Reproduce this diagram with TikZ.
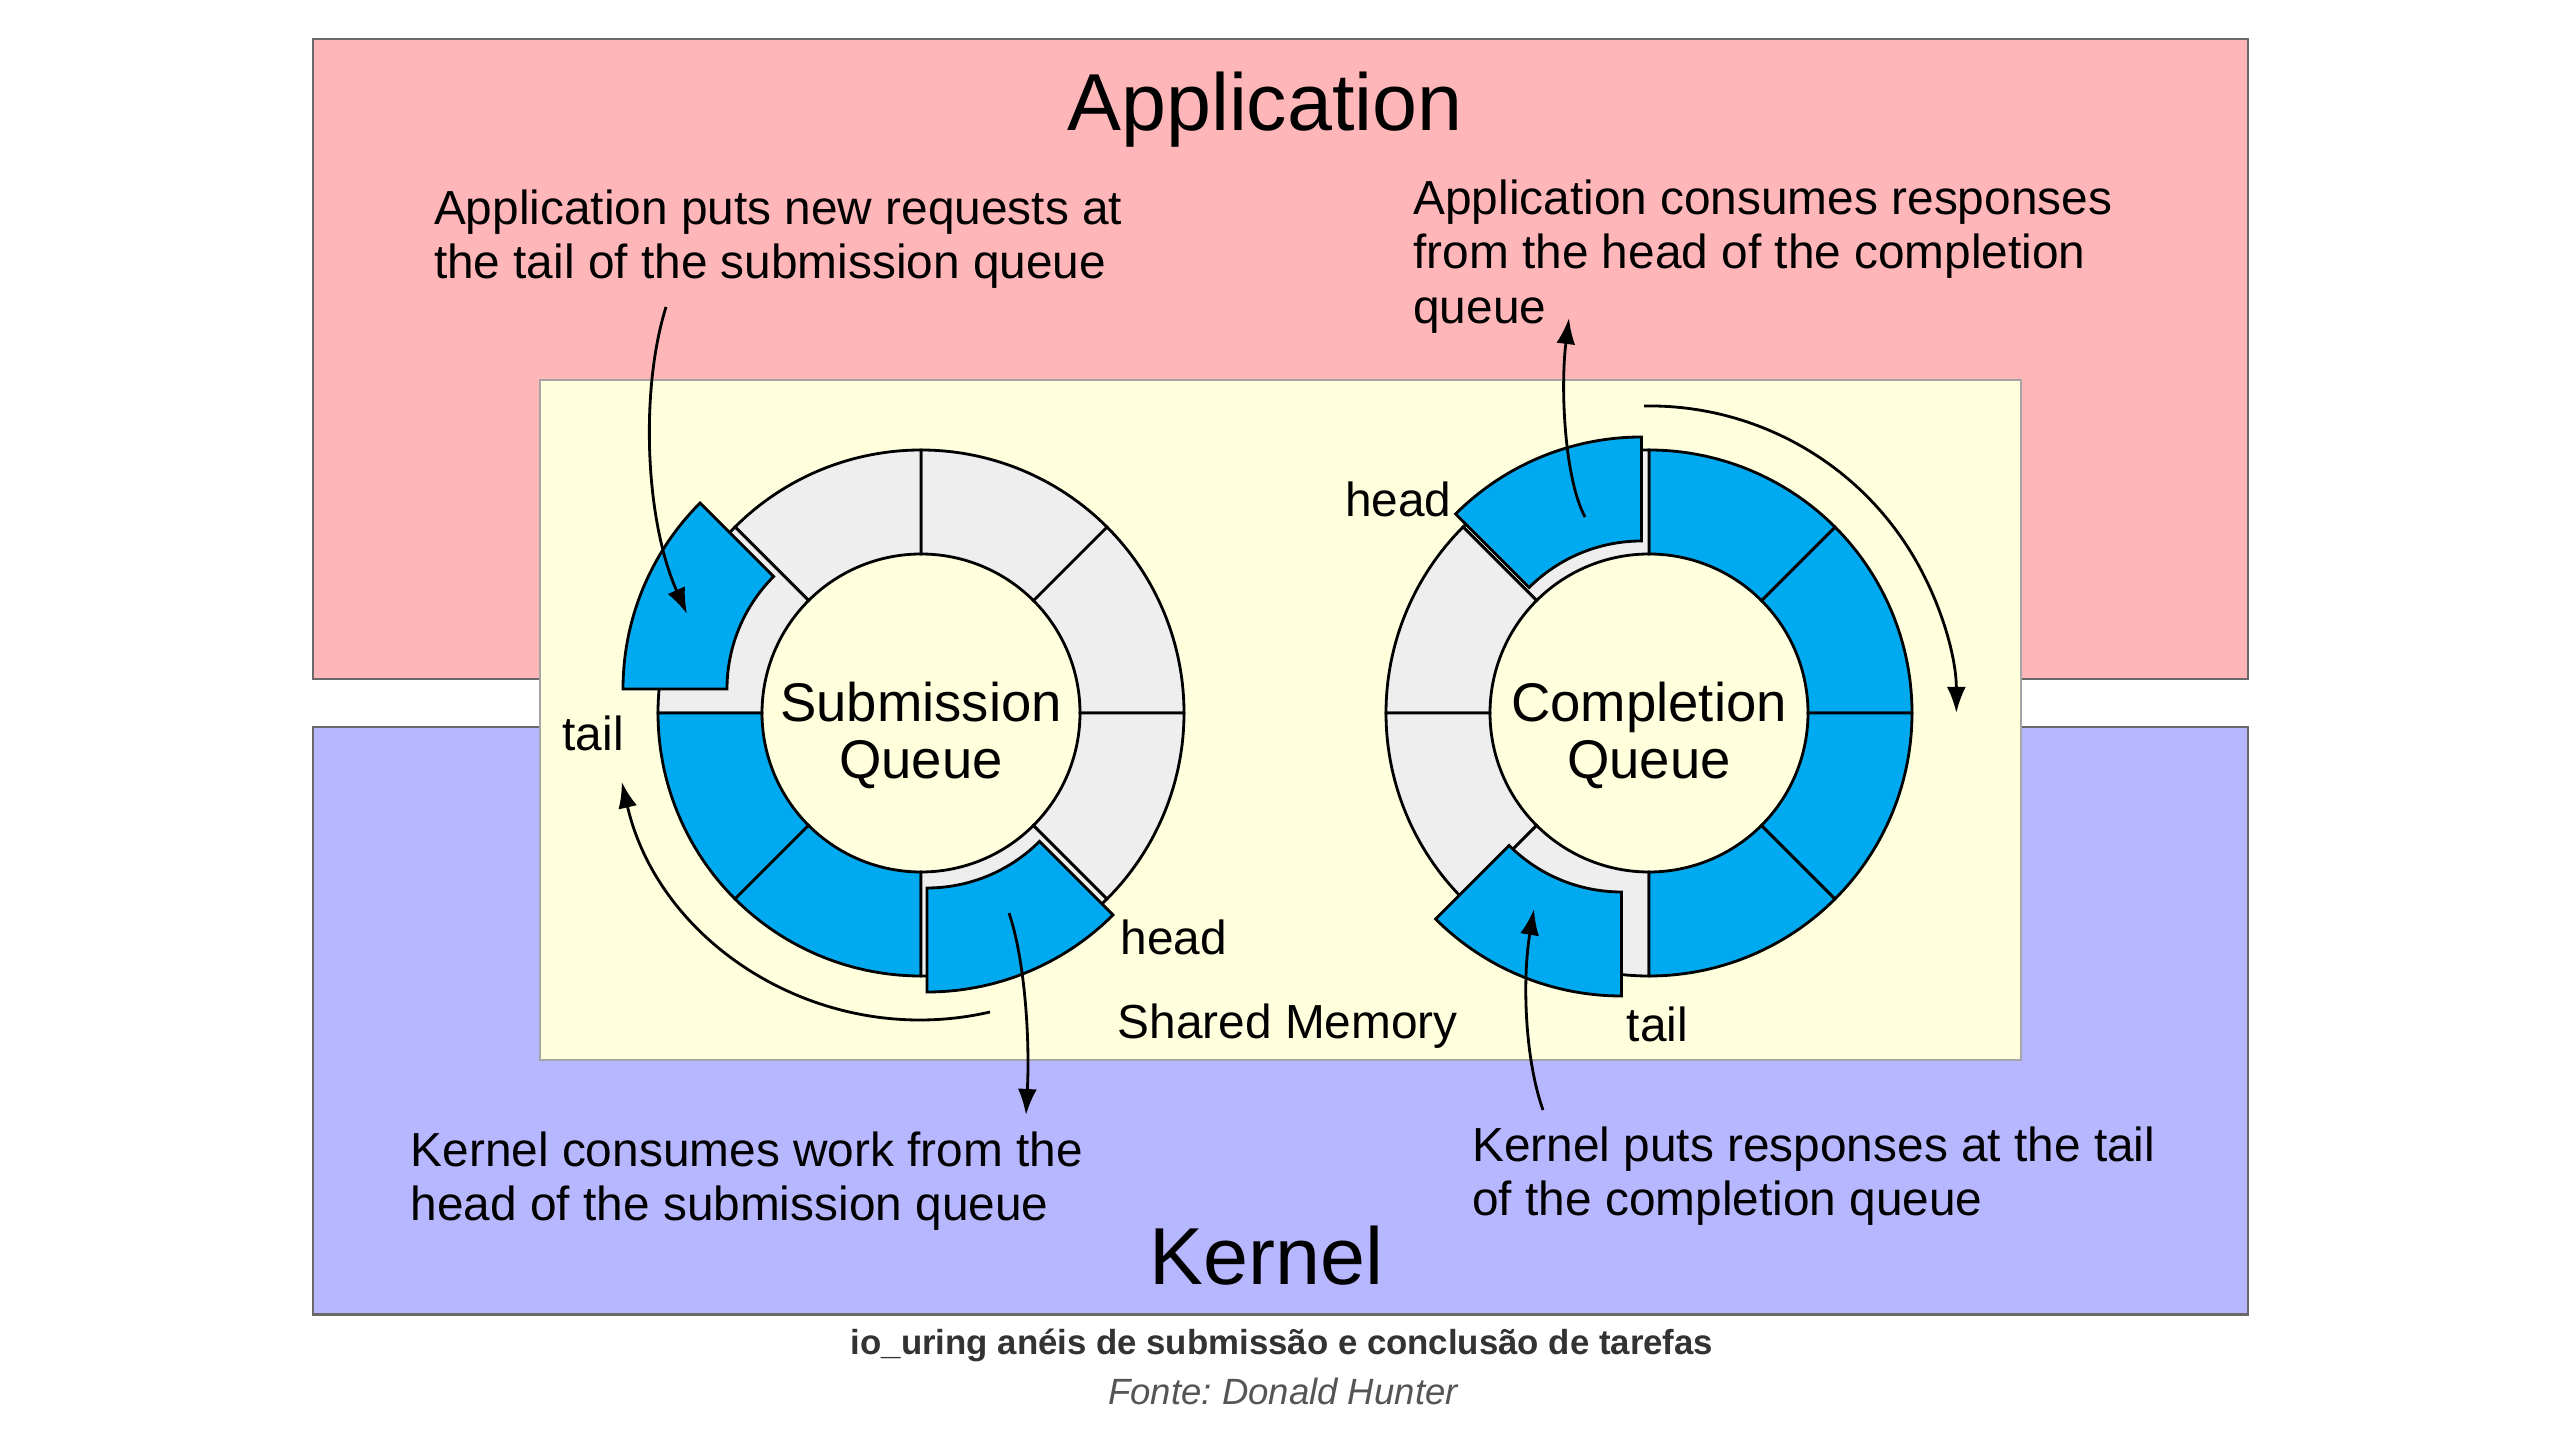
\documentclass[tikz,border=0pt]{standalone}
\usepackage{fontspec}
\setmainfont{Liberation Sans}
\usepackage{tikz}
\usetikzlibrary{arrows.meta}

\definecolor{apppink}{RGB}{255,182,185}
\definecolor{kernblue}{RGB}{183,183,255}
\definecolor{shmem}{RGB}{255,255,222}
\definecolor{slotfull}{RGB}{0,170,240}
\definecolor{slotfree}{RGB}{238,238,238}
\definecolor{edgegray}{RGB}{105,105,105}
\definecolor{capgray}{RGB}{51,51,51}
\definecolor{srcgray}{RGB}{85,85,85}

\tikzset{
  region/.style={draw=edgegray, line width=0.6pt},
  slot/.style={draw=black, line width=0.8pt},
  note/.style={font=\fontsize{13.6}{15.5}\selectfont, align=left, inner sep=0pt},
  tag/.style={font=\fontsize{13.6}{15.5}\selectfont, inner sep=0pt, anchor=base west},
  ringname/.style={font=\fontsize{15.5}{16.2}\selectfont, align=center, inner sep=0pt},
  bigname/.style={font=\fontsize{23}{27}\selectfont, inner sep=0pt, anchor=base},
  ptr/.style={-{Latex[length=2.6mm,width=1.9mm]}, line width=0.8pt},
}

\begin{document}
\begin{tikzpicture}
      \useasboundingbox (0,0) rectangle (25.6,14.4);
      \fill[white] (0,0) rectangle (25.6,14.4);
      \draw[region, fill=apppink] (3.13,7.61) rectangle (22.48,14.01);
      \draw[region, fill=kernblue] (3.13,1.255) rectangle (22.48,7.13);
      \draw[region, draw=edgegray!60, fill=shmem] (5.40,3.80) rectangle (20.21,10.60);

      \coordinate (sq) at (9.21,7.27);
      \coordinate (cq) at (16.49,7.27);

      % ring slots in place
      \foreach \q/\a/\c [evaluate=\a as \b using \a+45] in
          {sq/0/slotfree, sq/45/slotfree, sq/90/slotfree, sq/135/slotfree,
           sq/180/slotfull, sq/225/slotfull, sq/270/slotfree, sq/315/slotfree,
           cq/0/slotfull, cq/45/slotfull, cq/90/slotfree, cq/135/slotfree,
           cq/180/slotfree, cq/225/slotfree, cq/270/slotfull, cq/315/slotfull}
        \draw[slot, fill=\c, shift={(\q)}] (\a:1.59) arc[start angle=\a, end angle=\b, radius=1.59]
            -- (\b:2.63) arc[start angle=\b, end angle=\a, radius=2.63] -- cycle;

      % slots pulled out at head and tail
      \foreach \q/\a/\dx/\dy [evaluate=\a as \b using \a+45] in
          {sq/135/-0.35/0.24, sq/270/0.06/-0.16, cq/90/-0.075/0.13, cq/225/-0.275/-0.20}
        \draw[slot, fill=slotfull, shift={(\q)}, shift={(\dx,\dy)}] (\a:1.59) arc[start angle=\a, end angle=\b, radius=1.59]
            -- (\b:2.63) arc[start angle=\b, end angle=\a, radius=2.63] -- cycle;

      \node[ringname, yshift=-2.2mm] (sqname) at (sq) {Submission\\Queue};
      \node[ringname, yshift=-2.2mm] (cqname) at (cq) {Completion\\Queue};

      \node[bigname] (apptitle) at (12.65,13.093) {Application};
      \node[bigname] (kerntitle) at (12.667,1.55) {Kernel};

      \node[note, anchor=north west] (putnote) at (4.333,12.509)
          {Application puts new requests at\\the tail of the submission queue};
      \node[note, anchor=north west] (takenote) at (14.127,12.609)
          {Application consumes responses\\from the head of the completion\\queue};
      \node[note, anchor=north west] (worknote) at (4.10,3.092)
          {Kernel consumes work from the\\head of the submission queue};
      \node[note, anchor=north west] (donenote) at (14.717,3.142)
          {Kernel puts responses at the tail\\of the completion queue};

      \node[tag] (sqtail) at (5.62,6.89) {tail};
      \node[tag] (sqhead) at (11.20,4.85) {head};
      \node[tag] (cqhead) at (13.445,9.235) {head};
      \node[tag] (cqtail) at (16.26,3.98) {tail};
      \node[tag] (shmemname) at (11.17,4.015) {Shared Memory};

      \coordinate (putfrom) at (6.66,11.33);
      \coordinate (putto) at (6.87,8.26);
      \coordinate (workfrom) at (10.09,5.27);
      \coordinate (workto) at (10.26,3.25);
      \coordinate (takefrom) at (15.85,9.23);
      \coordinate (taketo) at (15.69,11.22);
      \coordinate (donefrom) at (15.43,3.30);
      \coordinate (doneto) at (15.34,5.31);
      \coordinate (sqspin) at (9.90,4.28);
      \coordinate (cqspin) at (16.44,10.34);

      \draw[ptr] (putfrom) .. controls (6.40,10.5) and (6.45,9.2) .. (putto);
      \draw[ptr] (workfrom) .. controls (10.25,4.8) and (10.30,4.0) .. (workto);
      \draw[ptr] (takefrom) .. controls (15.65,9.6) and (15.60,10.5) .. (taketo);
      \draw[ptr] (donefrom) .. controls (15.25,3.8) and (15.22,4.6) .. (doneto);
      \draw[ptr] (sqspin) arc[start angle=-77, end angle=-167, radius=3.07];
      \draw[ptr] (cqspin) arc[start angle=91, end angle=0, radius=3.07];

      \node[font=\fontsize{9.9}{12}\selectfont\bfseries, text=capgray, inner sep=0pt, anchor=base] (caption) at (12.82,0.86)
          {io\_uring anéis de submissão e conclusão de tarefas};
      \node[font=\fontsize{10.4}{12}\selectfont\itshape, text=srcgray, inner sep=0pt, anchor=base] (source) at (12.83,0.35)
          {Fonte:\ Donald Hunter};
\end{tikzpicture}
\end{document}
